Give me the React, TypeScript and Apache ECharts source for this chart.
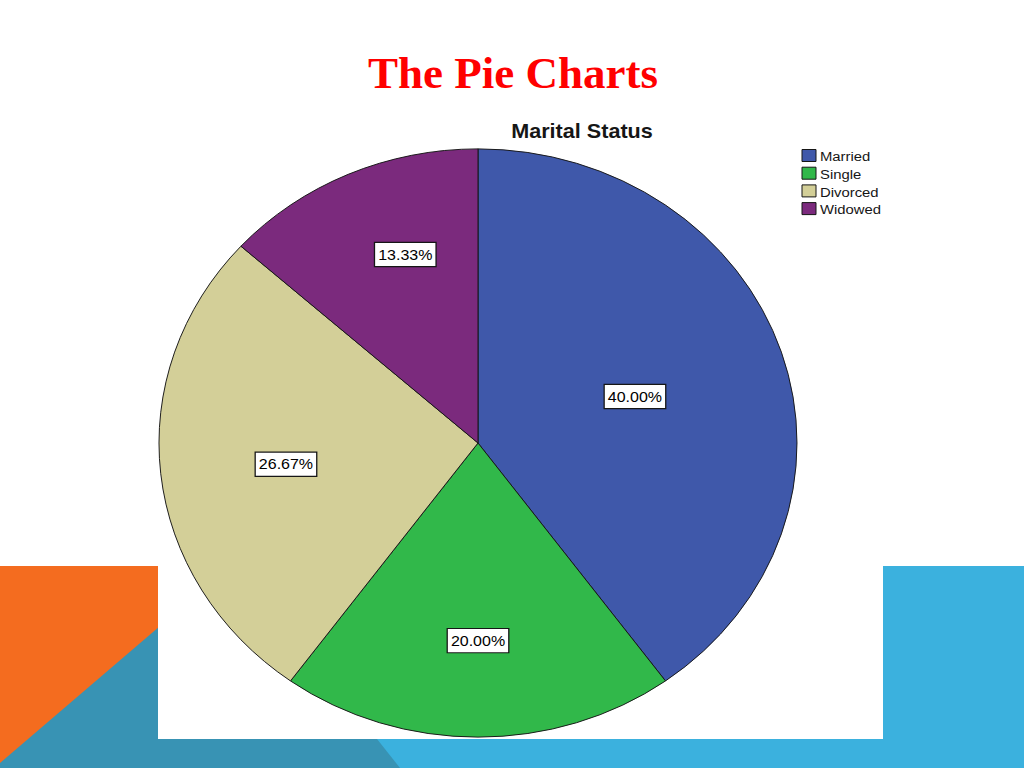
import React, { useEffect, useRef } from 'react';
import * as echarts from 'echarts';

// data
const categories = ['Married', 'Single', 'Divorced', 'Widowed'];
const counts = [6, 3, 4, 2];
const sliceColors = ['#3f58aa', '#31b84a', '#d3cf98', '#7b2a7d'];
const slideTitle = 'The Pie Charts';
const pieTitle = 'Marital Status';

// where each percentage box sits, in radius units from the centre (x right, y down)
const LABEL_SPOT = [
  [0.492, -0.158],
  [0.0, 0.672],
  [-0.602, 0.072],
  [-0.228, -0.641],
];

const TH = {
  ORANGE: '#f46c1f',
  TEAL: '#3893b4',
  BLUE: '#3bb1de',
  RED: '#ff0000',
  INK: '#161616',
};

const SANS = '"Liberation Sans", Arial, sans-serif';
const SERIF = '"Liberation Serif", "Times New Roman", serif';

// the pasted SPSS picture is a bit wider than tall, so the pie is squashed
const PIE = { left: 157.6, top: 122.7, size: 640, radius: 319, squash: 0.922 };

const legendGraphics = categories.flatMap((name, i) => [
  {
    type: 'rect',
    shape: { x: 802, y: 149.5 + i * 17.7, width: 14, height: 12 },
    style: { fill: sliceColors[i], stroke: TH.INK, lineWidth: 1 },
  },
  {
    type: 'text',
    x: 820,
    y: 156.5 + i * 17.7,
    scaleX: 1.1,
    style: {
      text: name,
      fontSize: 13.5,
      fontFamily: SANS,
      fill: TH.INK,
      verticalAlign: 'middle',
    },
  },
]);

const slideOption: any = {
  animation: false,
  backgroundColor: '#ffffff',
  graphic: [
    { type: 'rect', shape: { x: 0, y: 566, width: 158, height: 202 }, style: { fill: TH.ORANGE } },
    { type: 'rect', shape: { x: 300, y: 739, width: 724, height: 29 }, style: { fill: TH.BLUE } },
    { type: 'rect', shape: { x: 883, y: 566, width: 141, height: 202 }, style: { fill: TH.BLUE } },
    {
      type: 'polygon',
      shape: { points: [[0, 763], [236, 561], [400, 768], [0, 768]] },
      style: { fill: TH.TEAL },
    },
    { type: 'rect', shape: { x: 158, y: 105, width: 725, height: 634 }, style: { fill: '#ffffff' } },
    {
      type: 'text',
      x: 513,
      y: 73,
      style: {
        text: slideTitle,
        fontSize: 45,
        fontWeight: 'bold',
        fontFamily: SERIF,
        fill: TH.RED,
        align: 'center',
        verticalAlign: 'middle',
      },
    },
    {
      type: 'text',
      x: 582,
      y: 131,
      scaleX: 1.08,
      style: {
        text: pieTitle,
        fontSize: 20,
        fontWeight: 'bold',
        fontFamily: SANS,
        fill: TH.INK,
        align: 'center',
        verticalAlign: 'middle',
      },
    },
    ...legendGraphics,
  ],
};

const half = PIE.size / 2;

const pieOption: any = {
  animation: false,
  series: [
    {
      type: 'pie',
      center: ['50%', '50%'],
      radius: PIE.radius,
      startAngle: 90,
      clockwise: true,
      avoidLabelOverlap: false,
      emphasis: { disabled: true },
      data: categories.map((name, i) => ({
        name,
        value: counts[i],
        itemStyle: { color: sliceColors[i] },
      })),
      itemStyle: { borderColor: TH.INK, borderWidth: 1 },
      labelLine: { show: false },
      label: {
        show: true,
        position: 'inside',
        formatter: (p: any) => `${p.percent.toFixed(2)}%`,
        color: '#000',
        fontSize: 16,
        fontFamily: SANS,
        backgroundColor: '#ffffff',
        borderColor: TH.INK,
        borderWidth: 1.3,
        padding: [5, 3, 4, 3],
      },
      labelLayout: (p: any) => {
        const [fx, fy] = LABEL_SPOT[p.dataIndex];
        return {
          x: half + fx * PIE.radius,
          y: half + fy * PIE.radius,
          align: 'center',
          verticalAlign: 'middle',
        };
      },
    },
  ],
};

const App = (): JSX.Element => {
  const slideEl = useRef<HTMLDivElement>(null);
  const pieEl = useRef<HTMLDivElement>(null);

  useEffect(() => {
    const slide = echarts.init(slideEl.current as any, null, { renderer: 'svg' });
    slide.setOption(slideOption);
    const pie = echarts.init(pieEl.current as any, null, { renderer: 'svg' });
    pie.setOption(pieOption);

    return () => {
      pie.dispose();
      slide.dispose();
    };
  }, []);

  return (
    <div style={{ position: 'fixed', left: 0, top: 0, width: 1024, height: 768 }}>
      <div ref={slideEl} style={{ position: 'absolute', left: 0, top: 0, width: 1024, height: 768 }}></div>
      <div
        ref={pieEl}
        style={{
          position: 'absolute',
          left: PIE.left,
          top: PIE.top,
          width: PIE.size,
          height: PIE.size,
          transform: `scaleY(${PIE.squash})`,
          transformOrigin: 'center',
        }}
      ></div>
    </div>
  );
};

export default App;
